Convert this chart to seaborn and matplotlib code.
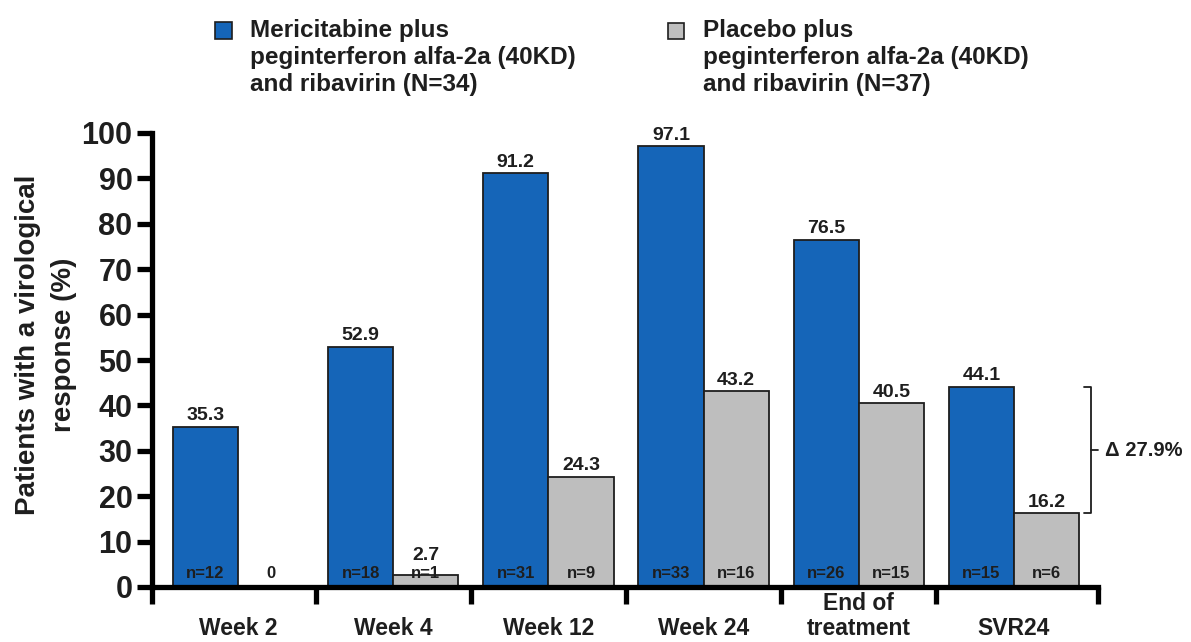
import numpy as np
import pandas as pd
import matplotlib
matplotlib.use("Agg")
import matplotlib.pyplot as plt
from matplotlib import font_manager
from matplotlib.patches import Rectangle
import seaborn as sns

# ---- data ----
categories = ["Week 2", "Week 4", "Week 12", "Week 24", "End of\ntreatment", "SVR24"]
meri_values = [35.3, 52.9, 91.2, 97.1, 76.5, 44.1]
plac_values = [0.0, 2.7, 24.3, 43.2, 40.5, 16.2]
meri_n = [12, 18, 31, 33, 26, 15]
plac_n = [None, 1, 9, 16, 15, 6]
series_names = ["Mericitabine plus\npeginterferon alfa-2a (40KD)\nand ribavirin (N=34)",
                "Placebo plus\npeginterferon alfa-2a (40KD)\nand ribavirin (N=37)"]
y_ticks = [0, 10, 20, 30, 40, 50, 60, 70, 80, 90, 100]
y_label = "Patients with a virological\nresponse (%)"

BLUE = "#1565B8"
GRAY = "#BEBEBE"
DARK = "#1e1e1e"

sns.set_theme(style="white")
avail = {f.name for f in font_manager.fontManager.ttflist}
fam = [f for f in ["Liberation Sans", "DejaVu Sans"] if f in avail]
plt.rcParams["font.family"] = fam + ["DejaVu Sans"]
plt.rcParams["font.weight"] = "bold"

df = pd.DataFrame({
    "cat": categories * 2,
    "val": meri_values + plac_values,
    "grp": ["meri"] * len(categories) + ["plac"] * len(categories),
})

W, H = 1191, 642
fig = plt.figure(figsize=(W / 100, H / 100), dpi=100)
ax_left, ax_right, ax_bottom, ax_top = 152, 1098, 587, 133
ax = fig.add_axes([ax_left / W, 1 - ax_bottom / H, (ax_right - ax_left) / W,
                   (ax_bottom - ax_top) / H])

sns.barplot(data=df, x="cat", y="val", hue="grp", order=categories,
            hue_order=["meri", "plac"], palette={"meri": BLUE, "plac": GRAY},
            width=0.84, edgecolor=DARK, linewidth=1.3, saturation=1,
            legend=False, ax=ax)

ax.set_ylim(0, 100)
n = len(categories)
step = (1014 - 238) / (n - 1)
left_lim = -(238 - ax_left) / step
right_lim = (n - 1) + (ax_right - 1014) / step
ax.set_xlim(left_lim, right_lim)

# value labels & n labels
n_y = 2.9
for cont, vals, ns in zip(ax.containers, [meri_values, plac_values], [meri_n, plac_n]):
    for bar, v, nn in zip(cont, vals, ns):
        cx = bar.get_x() + bar.get_width() / 2
        h = bar.get_height()
        if v == 0:
            ax.text(cx, n_y, f"{v:g}", ha="center", va="center", fontsize=12,
                    fontweight="bold", color=DARK)
        else:
            ax.text(cx, max(h + 1.4, 6.0), f"{v:.1f}", ha="center", va="baseline",
                    fontsize=14, fontweight="bold", color=DARK)
        if nn is not None:
            ax.text(cx, n_y, f"n={nn}", ha="center", va="center", fontsize=12,
                    fontweight="bold", color=DARK)

# axes styling
for s in ["top", "right"]:
    ax.spines[s].set_visible(False)
for s in ["left", "bottom"]:
    ax.spines[s].set_linewidth(3.8)
    ax.spines[s].set_color("black")
    ax.spines[s].set_capstyle("projecting")

ax.set_yticks(y_ticks)
ax.set_yticklabels([str(t) for t in y_ticks], fontsize=22, fontweight="bold", color=DARK)
ax.tick_params(axis="y", direction="out", length=11, width=3.8, color="black", pad=3, left=True)

ax.set_xticks(range(n))
ax.set_xticklabels(categories, fontsize=16.5, fontweight="bold", color=DARK, linespacing=1.12)
ax.tick_params(axis="x", which="major", length=0, pad=38)
for lbl in ax.get_xticklabels():
    lbl.set_verticalalignment("bottom")
ax.set_xticks([left_lim] + [i + 0.5 for i in range(n - 1)] + [right_lim], minor=True)
ax.tick_params(axis="x", which="minor", direction="out", length=12, width=3.8,
               color="black", bottom=True)

ax.set_xlabel("")
ax.set_ylabel(y_label, fontsize=20, fontweight="bold", color=DARK, linespacing=1.5)
ax.yaxis.set_label_coords((77 - ax_left) / (ax_right - ax_left), 0.533)

# delta bracket for SVR24
bx = (n - 1) + (1091 - 1014) / step
bl = (n - 1) + (1084 - 1014) / step
br = (n - 1) + (1098 - 1014) / step
top, bot = meri_values[-1], plac_values[-1]
ax.plot([bl, bx, bx, bl], [top, top, bot, bot], color=DARK, lw=1.3, clip_on=False)
ax.plot([bx, br], [(top + bot) / 2] * 2, color=DARK, lw=1.3, clip_on=False)
ax.text((n - 1) + (1105 - 1014) / step, (top + bot) / 2, f"\u0394 {top - bot:.1f}%",
        ha="left", va="center", fontsize=14.5, fontweight="bold", color=DARK, clip_on=False)

# legend (manual, square aligned to first line)
for (sx, sw, tx), name, col in zip([(215, 17, 250), (668, 16, 703)], series_names, [BLUE, GRAY]):
    fig.patches.append(Rectangle((sx / W, 1 - 39 / H), sw / W, sw / H,
                                 transform=fig.transFigure, facecolor=col,
                                 edgecolor=DARK, lw=1.2))
    fig.text(tx / W, 1 - 19 / H, name, ha="left", va="top", fontsize=17.5,
             fontweight="bold", color=DARK, linespacing=1.22)

fig.savefig("out.png", dpi=100, facecolor="white")
